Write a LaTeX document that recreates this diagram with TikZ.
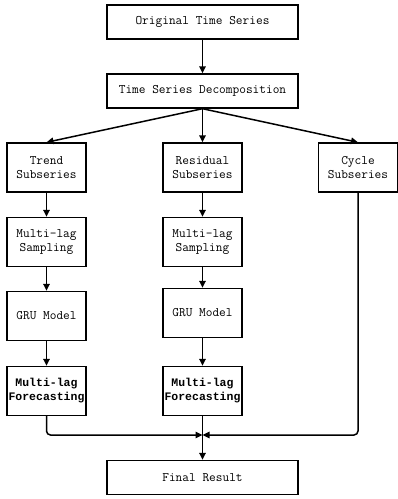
\documentclass[tikz,border=0pt]{standalone}
\usepackage{fontspec}
\setmonofont{Latin Modern Mono}
\newfontfamily\boldmono{Liberation Mono}
\usetikzlibrary{arrows.meta,positioning}

\begin{document}
\begin{tikzpicture}[x=1pt,y=-1pt]

\tikzset{
  flowbox/.style={draw, line width=1.4pt, align=center, inner sep=0pt,
    font=\ttfamily\fontsize{13}{14}\selectfont,
    minimum width=#1, minimum height=49pt},
  flowbox/.default=79pt,
  widebox/.style={flowbox=191pt, minimum height=34pt},
  boldtext/.style={font=\boldmono\bfseries\fontsize{11.5}{14}\selectfont},
  arr/.style={line width=1.5pt, -{Triangle[length=7pt,width=6.5pt]}}
}

\useasboundingbox (0,0) rectangle (398,499);

% top row
\node[widebox] (orig) at (202.5,22) {Original Time Series};
\node[widebox] (decomp) at (202.5,91) {Time Series Decomposition};

% subseries
\node[flowbox] (trend) at (46.5,167.5) {Trend\\Subseries};
\node[flowbox] (resid) at (202.5,167.5) {Residual\\Subseries};
\node[flowbox] (cycle) at (358,167.5) {Cycle\\Subseries};

% trend branch
\node[flowbox] (samp1) at (46.5,242) {Multi-lag\\Sampling};
\node[flowbox] (gru1) at (46.5,316) {GRU Model};
\node[flowbox,boldtext] (fore1) at (46.5,391) {Multi-lag\\Forecasting};

% residual branch
\node[flowbox] (samp2) at (202.5,242) {Multi-lag\\Sampling};
\node[flowbox] (gru2) at (202.5,313) {GRU Model};
\node[flowbox,boldtext] (fore2) at (202.5,391) {Multi-lag\\Forecasting};

\node[widebox] (final) at (202.5,477.5) {Final Result};
\coordinate (join) at (202.5,435);

\draw[arr] (orig) -- (decomp);
\draw[arr] (decomp.south) -- (trend.north);
\draw[arr] (decomp.south) -- (resid.north);
\draw[arr] (decomp.south) -- (cycle.north);
\draw[arr] (trend) -- (samp1);
\draw[arr] (samp1) -- (gru1);
\draw[arr] (gru1) -- (fore1);
\draw[arr] (resid) -- (samp2);
\draw[arr] (samp2) -- (gru2);
\draw[arr] (gru2) -- (fore2);
\draw[arr, rounded corners=4pt] (fore1.south) |- (join);
\draw[arr, rounded corners=4pt] (cycle.south) |- (join);
\draw[arr] (fore2) -- (final);

\end{tikzpicture}
\end{document}
